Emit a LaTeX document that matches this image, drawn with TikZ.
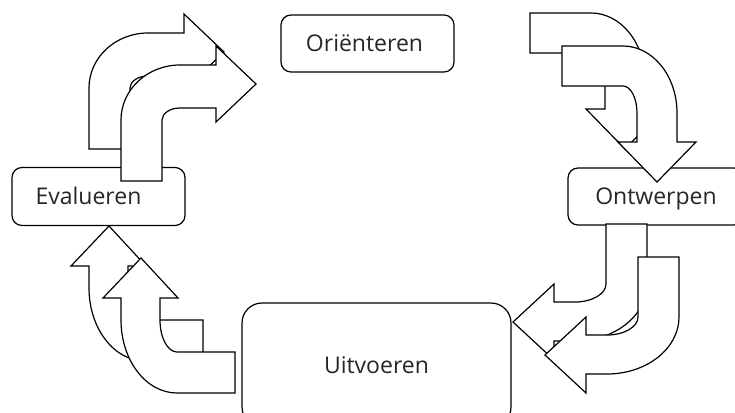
\documentclass[tikz,border=0pt]{standalone}
\usepackage{fontspec}
\setmainfont{Open Sans}
\begin{document}
\begin{tikzpicture}[x=1pt,y=-1pt,
  stepbox/.style={draw=black, line width=1.2pt, fill=white, rounded corners=#1, inner sep=0pt, outer sep=0pt,
    font=\fontsize{23}{27}\selectfont, text=black!85, text height=16.5pt, text depth=0pt},
  barrow/.style={draw=black, line width=1.2pt, fill=white, line join=miter}]
\useasboundingbox (0,0) rectangle (735,412);
\clip (0,0) rectangle (735,412);
% boxes
\node[stepbox=10pt, minimum width=173pt, minimum height=57pt] (ori) at (367.5,43.5) {Oriënteren\hspace*{6pt}};
\node[stepbox=10pt, minimum width=173pt, minimum height=58pt] (eva) at (98.5,196.5) {Evalueren\hspace*{20pt}};
\node[stepbox=10pt, minimum width=176pt, minimum height=57pt] (ont) at (656,196.5) {Ontwerpen};
\node[stepbox=20pt, minimum width=269pt, minimum height=124pt] (uit) at (376.5,365) {Uitvoeren};
% arrow outlines (pixel coordinates)
\def\arrowTL{(121,181) -- (121,120) arc[start angle=180,end angle=270,x radius=59,y radius=55] -- (216,65) -- (216,46) -- (256,84) -- (216,122) -- (216,108) -- (180,108) arc[start angle=270,end angle=180,x radius=18,y radius=12] -- (162,181) -- cycle}
\def\arrowTR{(562,46) -- (623,46) arc[start angle=270,end angle=360,x radius=54,y radius=67] -- (677,142) -- (696,142) -- (657,182) -- (618,142) -- (637,142) -- (637,113) arc[start angle=0,end angle=-90,x radius=14,y radius=27] -- (562,86) -- cycle}
\def\arrowBR{(638,257) -- (679,257) -- (679,317) arc[start angle=0,end angle=90,x radius=72,y radius=57] -- (586,374) -- (586,393) -- (545,355) -- (586,317) -- (586,335) -- (607,335) arc[start angle=90,end angle=0,x radius=31,y radius=18] -- cycle}
\def\arrowBL{(141,258) -- (178,298) -- (160,298) -- (160,320) arc[start angle=180,end angle=90,x radius=17,y radius=32] -- (235,352) -- (235,393) -- (177,393) arc[start angle=90,end angle=180,x radius=56,y radius=73] -- (121,298) -- (103,298) -- cycle}
% Evalueren -> Orienteren
\begin{scope}[shift={(-32,-32)}]\path[barrow] \arrowTL;\end{scope}
\path[barrow] \arrowTL;
% Orienteren -> Ontwerpen
\begin{scope}[shift={(-32,-33)}]\path[barrow] \arrowTR;\end{scope}
\path[barrow] \arrowTR;
% Ontwerpen -> Uitvoeren
\begin{scope}[shift={(-32,-33)}]\path[barrow] \arrowBR;\end{scope}
\path[barrow] \arrowBR;
% Uitvoeren -> Evalueren
\begin{scope}[shift={(-32,-32)}]\path[barrow] \arrowBL;\end{scope}
\path[barrow] \arrowBL;
\end{tikzpicture}
\end{document}
